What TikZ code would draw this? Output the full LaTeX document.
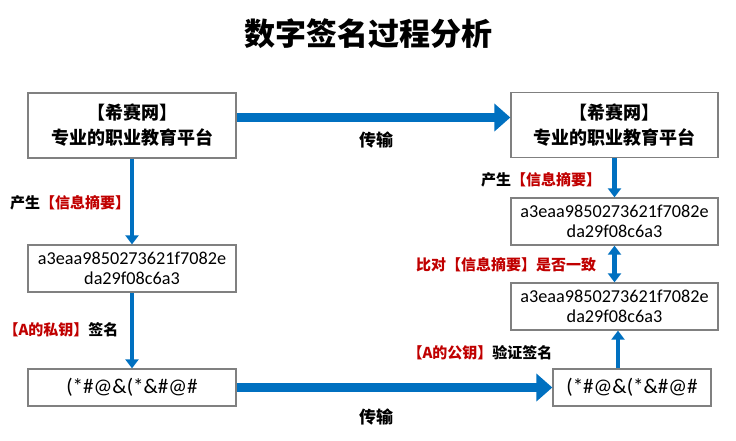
\documentclass[tikz,border=0pt]{standalone}
\usepackage{fontspec}
\setmainfont{Noto Sans CJK SC}
\newfontfamily\hashfont{Carlito}
\usetikzlibrary{arrows.meta}
\definecolor{arrowblue}{HTML}{0070C0}
\definecolor{labelred}{HTML}{C00000}
\definecolor{boxgray}{HTML}{808080}
\tikzset{
  box/.style={draw=boxgray, line width=1.3pt, fill=white, inner sep=0pt, align=center},
  cnbox/.style={box, font=\bfseries\fontsize{18}{25}\selectfont},
  hashbox/.style={box, font=\hashfont\fontsize{18.2}{20}\selectfont},
  sigbox/.style={box, font=\hashfont\fontsize{21}{23}\selectfont},
  bigarrow/.style={arrowblue, line width=9pt, -{Triangle[length=16pt,width=27pt]}},
  varrow/.style={arrowblue, line width=4.5pt, -{Triangle[length=9pt,width=13pt]}},
  varrowboth/.style={arrowblue, line width=4.5pt, {Triangle[length=9pt,width=13pt]}-{Triangle[length=9pt,width=13pt]}},
  lbl/.style={font=\bfseries\fontsize{15}{18}\selectfont, inner sep=0pt},
  trans/.style={font=\bfseries\fontsize{17}{20}\selectfont, inner sep=0pt},
}
\begin{document}
\begin{tikzpicture}[x=1pt,y=-1pt]
\useasboundingbox (0,0) rectangle (736,440);
\node[font=\bfseries\fontsize{31}{34}\selectfont, inner sep=0pt] (title) at (368,34) {数字签名过程分析};

\node[cnbox, minimum width=208pt, minimum height=65pt] (box1) at (132,125.5) {【希赛网】\\专业的职业教育平台};
\node[cnbox, minimum width=207pt, minimum height=65pt] (box2) at (614.5,125) {【希赛网】\\专业的职业教育平台};
\node[hashbox, minimum width=208pt, minimum height=47pt] (hashL) at (132,268.5) {a3eaa9850273621f7082e\\da29f08c6a3};
\node[hashbox, minimum width=207pt, minimum height=47pt] (hash3) at (614.5,221.5) {a3eaa9850273621f7082e\\da29f08c6a3};
\node[hashbox, minimum width=207pt, minimum height=47pt] (hash4) at (614.5,306.5) {a3eaa9850273621f7082e\\da29f08c6a3};
\node[sigbox, minimum width=208pt, minimum height=37pt] (sigL) at (132,387.5) {(*\#@\&(*\&\#@\#};
\node[sigbox, minimum width=158pt, minimum height=37pt] (sigR) at (632,387.5) {(*\#@\&(*\&\#@\#};

\draw[bigarrow] ([yshift=8pt]box1.east) -- ([yshift=8pt]box1.east -| box2.west);
\draw[bigarrow] (sigL.east) -- (sigR.west);
\draw[varrow] (box1.south) -- (hashL.north);
\draw[varrow] (hashL.south) -- (sigL.north);
\draw[varrow] (box2.south) -- (hash3.north);
\draw[varrowboth] (hash3.south) -- (hash4.north);
\draw[varrow] ([xshift=-14pt]sigR.north) -- ([xshift=-14pt]sigR.north |- hash4.south);

\node[trans] (t1) at (376,140) {传输};
\node[trans] (t2) at (376,417) {传输};
\node[lbl] (l1) at (70,203) {产生\textcolor{labelred}{【信息摘要】}};
\node[lbl] (l2) at (61,330) {\textcolor{labelred}{【A的私钥】}签名};
\node[lbl] (l3) at (541,180) {产生\textcolor{labelred}{【信息摘要】}};
\node[lbl, text=labelred] (l4) at (506,265) {比对【信息摘要】是否一致};
\node[lbl] (l5) at (480,353) {\textcolor{labelred}{【A的公钥】}验证签名};
\end{tikzpicture}
\end{document}
